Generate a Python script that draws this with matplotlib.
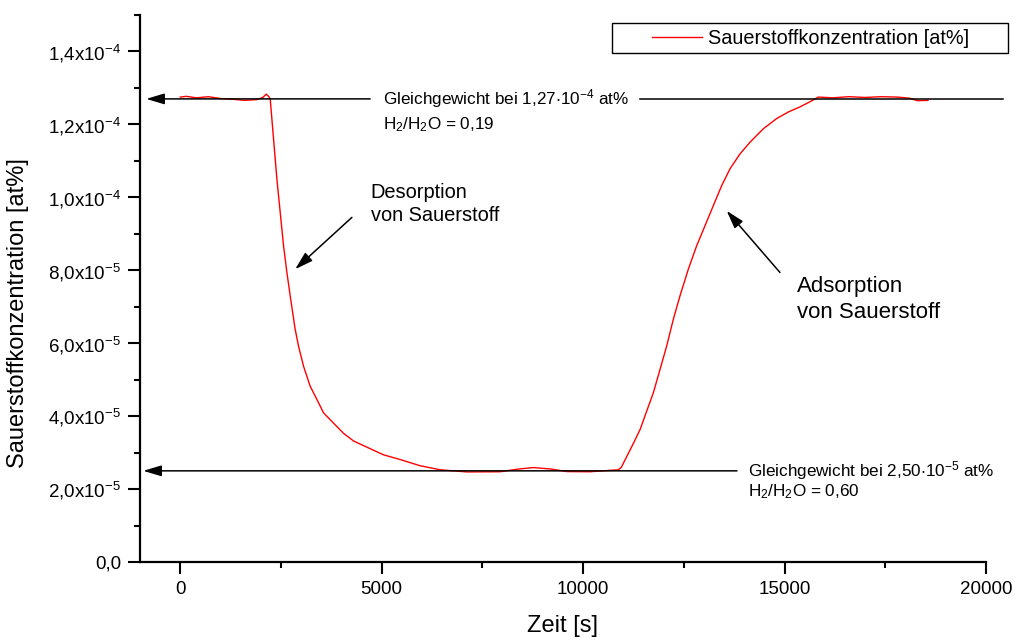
import matplotlib
matplotlib.use("Agg")
import matplotlib.pyplot as plt
from matplotlib.ticker import MultipleLocator, FuncFormatter
from matplotlib.patches import Rectangle
import math

plt.rcParams['font.family'] = ['Liberation Sans', 'DejaVu Sans']
plt.rcParams['mathtext.fontset'] = 'custom'
plt.rcParams['mathtext.rm'] = 'Liberation Sans'
plt.rcParams['mathtext.default'] = 'regular'

# Zeit [s] and Sauerstoffkonzentration [at%]
zeit = [0, 150, 400, 700, 1000, 1300, 1600, 1900, 2050, 2134, 2200, 2233,
        2316, 2399, 2564, 2647, 2729, 2853, 2936, 3060, 3225, 3391, 3557,
        3804, 4052, 4300, 4631, 5044, 5458, 5954, 6451, 7113, 7939, 8400,
        8766, 9200, 9594, 10172, 10876, 10950, 11247, 11413, 11743, 11909,
        12074, 12240, 12405, 12612, 12818, 13025, 13231, 13439, 13645, 13893,
        14141, 14472, 14803, 15092, 15382, 15630, 15837, 16200, 16600, 17000,
        17400, 17800, 18100, 18300, 18560]
konz_e6 = [127.5, 127.7, 127.3, 127.6, 127.1, 126.9, 126.6, 126.8, 127.4, 128.3, 127.6, 127.0,
           116.0, 105.0, 86.7, 79.4, 73.0, 63.8, 59.2, 53.7, 48.2, 44.6, 40.9,
           38.1, 35.3, 33.2, 31.5, 29.4, 28.1, 26.4, 25.3, 24.7, 24.75, 25.5,
           25.9, 25.5, 24.8, 24.75, 25.3, 26.0, 32.5, 36.3, 46.4, 52.8,
           59.2, 66.6, 73.0, 80.3, 86.7, 92.2, 97.7, 103.2, 107.8, 111.9,
           115.1, 118.8, 121.6, 123.4, 124.8, 126.2, 127.5, 127.3, 127.6, 127.4,
           127.6, 127.5, 127.2, 126.5, 126.6]
konz = [v * 1e-6 for v in konz_e6]

gg_oben = 1.27e-4
gg_unten = 2.50e-5


def y_fmt(v, pos):
    if abs(v) < 1e-12:
        return "0,0"
    e = math.floor(math.log10(abs(v)) + 1e-9)
    m = v / 10 ** e
    return ("%.1f" % m).replace(".", ",") + r"x10$^{%d}$" % e


fig = plt.figure(figsize=(10.15, 6.42), dpi=100)
ax = fig.add_axes([0.1379, 0.1246, 0.8335, 0.852])

line, = ax.plot(zeit, konz, color='red', lw=1.0, zorder=2)

ax.set_xlim(-1000, 20000)
ax.set_ylim(0, 1.5e-4)

for s in ['top', 'right']:
    ax.spines[s].set_visible(False)
for s in ['left', 'bottom']:
    ax.spines[s].set_linewidth(1.6)

ax.xaxis.set_major_locator(MultipleLocator(5000))
ax.xaxis.set_minor_locator(MultipleLocator(2500))
ax.yaxis.set_major_locator(MultipleLocator(2e-5))
ax.yaxis.set_minor_locator(MultipleLocator(1e-5))
ax.yaxis.set_major_formatter(FuncFormatter(y_fmt))
ax.tick_params(which='major', direction='out', length=8.6, width=1.5, labelsize=13.5, pad=5)
ax.tick_params(which='minor', direction='out', length=4.5, width=1.5)

ax.set_xlabel('Zeit [s]', fontsize=17)
ax.set_ylabel('Sauerstoffkonzentration [at%]', fontsize=17)
ax.xaxis.set_label_coords(0.5, -0.097)
ax.yaxis.set_label_coords(-0.131, 0.455)

arrow = dict(arrowstyle='-|>,head_length=1.1,head_width=0.33', color='black', lw=1.1,
             shrinkA=0, shrinkB=0)

# upper equilibrium line (interrupted by its label)
ax.annotate('', xy=(-844, gg_oben), xytext=(4714, gg_oben), arrowprops=arrow,
            annotation_clip=False, zorder=3)
ax.plot([11413, 20419], [gg_oben, gg_oben], color='black', lw=1.1, zorder=3, clip_on=False)
ax.text(5036, gg_oben, r'Gleichgewicht bei 1,27$\cdot$10$^{-4}$ at%', fontsize=12.3,
        va='center', ha='left')
ax.text(5036, 1.199e-4, r'H$_2$/H$_2$O = 0,19', fontsize=12.3, va='center', ha='left')

# lower equilibrium line
ax.annotate('', xy=(-918, gg_unten), xytext=(13820, gg_unten), arrowprops=arrow,
            annotation_clip=False, zorder=3)
ax.text(14090, gg_unten, r'Gleichgewicht bei 2,50$\cdot$10$^{-5}$ at%', fontsize=12.3,
        va='center', ha='left')
ax.text(14090, 1.93e-5, r'H$_2$/H$_2$O = 0,60', fontsize=12.3, va='center', ha='left')

# Desorption / Adsorption
ax.annotate('', xy=(2853, 8.03e-5), xytext=(4260, 9.45e-5), arrowprops=arrow)
ax.text(4730, 9.82e-5, 'Desorption\nvon Sauerstoff', fontsize=14.4, va='center', ha='left',
        linespacing=1.3)
ax.annotate('', xy=(13564, 9.63e-5), xytext=(14886, 7.94e-5), arrowprops=arrow)
ax.text(15308, 7.19e-5, 'Adsorption\nvon Sauerstoff', fontsize=16, va='center', ha='left',
        linespacing=1.3)

# legend with Origin-like box
fig.patches.append(Rectangle((612 / 1015, 1 - 53 / 642), 396 / 1015, 30 / 642,
                             transform=fig.transFigure, facecolor='white',
                             edgecolor='black', lw=1.0, zorder=5))
leg = fig.legend([line], ['Sauerstoffkonzentration [at%]'], loc='center left',
                 bbox_to_anchor=(652 / 1015, 1 - 38 / 642), fontsize=14.3,
                 frameon=False, borderpad=0, borderaxespad=0,
                 handlelength=2.5, handletextpad=0.3)
leg.set_zorder(6)

fig.savefig('out.png', dpi=100)
